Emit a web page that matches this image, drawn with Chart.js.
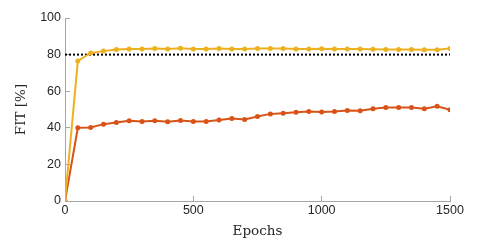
<!DOCTYPE html>
<html>
<head>
<meta charset="utf-8">
<script src="https://cdn.jsdelivr.net/npm/chart.js@4/dist/chart.umd.min.js"></script>
<style>
  html, body { margin: 0; padding: 0; background: #fff; }
  #wrap { width: 498px; height: 241px; }
</style>
</head>
<body>
<div id="wrap"><canvas id="chart"></canvas></div>
<script>
// values
const epochs = [0, 50, 100, 150, 200, 250, 300, 350, 400, 450, 500, 550, 600, 650, 700, 750,
                800, 850, 900, 950, 1000, 1050, 1100, 1150, 1200, 1250, 1300, 1350, 1400, 1450, 1500];
const fitYellow = [0, 76.5, 80.9, 81.9, 82.8, 83.1, 83.0, 83.3, 83.1, 83.5, 83.1, 83.0, 83.3, 83.0, 83.1, 83.3,
                   83.3, 83.3, 83.0, 83.0, 83.2, 83.1, 83.0, 83.1, 82.9, 82.8, 82.8, 82.8, 82.7, 82.7, 83.3];
const fitOrange = [0, 40.0, 40.2, 42.0, 42.9, 43.8, 43.5, 43.8, 43.3, 44.0, 43.5, 43.5, 44.2, 45.1, 44.5, 46.2,
                   47.6, 48.0, 48.5, 48.9, 48.7, 48.9, 49.5, 49.3, 50.4, 51.1, 51.1, 51.1, 50.4, 51.8, 49.8];
const thresholdX = [0, 1500];
const thresholdY = [80, 80];
const xTicks = [0, 500, 1000, 1500];
const yTicks = [0, 20, 40, 60, 80, 100];

const toPoints = (xs, ys) => xs.map((x, i) => ({ x: x, y: ys[i] }));

const tickFont = { family: 'Liberation Sans', size: 12.5 };
const titleFont = { family: 'DejaVu Serif', size: 13.5 };

const ctx = document.getElementById('chart').getContext('2d');

const myChart = new Chart(ctx, {
    type: 'line',
    data: {
        datasets: [
            {
                label: 'Yellow',
                data: toPoints(epochs, fitYellow),
                borderColor: '#EDB120',
                backgroundColor: '#EDB120',
                borderWidth: 2,
                pointRadius: 2.5,
                pointBorderWidth: 0,
                order: 1
            },
            {
                label: 'Orange',
                data: toPoints(epochs, fitOrange),
                borderColor: '#D95319',
                backgroundColor: '#D95319',
                borderWidth: 2,
                pointRadius: 2.5,
                pointBorderWidth: 0,
                order: 3
            },
            {
                label: 'Threshold',
                data: toPoints(thresholdX, thresholdY),
                borderColor: '#000',
                borderWidth: 2,
                borderDash: [2, 2],
                pointRadius: 0,
                order: 2
            }
        ]
    },
    options: {
        responsive: true,
        maintainAspectRatio: false,
        animation: false,
        layout: { padding: { top: 18, right: 48, left: 0, bottom: 0 } },
        scales: {
            x: {
                type: 'linear',
                min: 0,
                max: 1500,
                afterBuildTicks: axis => { axis.ticks = xTicks.map(v => ({ value: v })); },
                afterFit: axis => { axis.height = 40; },
                grid: { drawOnChartArea: false, tickLength: -5, color: '#a6a6a6' },
                border: { color: '#a6a6a6', width: 1 },
                ticks: { font: tickFont, color: '#262626', padding: 7, maxRotation: 0, callback: v => String(v) },
                title: { display: true, text: 'Epochs', font: titleFont, color: '#262626', padding: { top: 0, bottom: 1 } }
            },
            y: {
                min: 0,
                max: 100,
                afterBuildTicks: axis => { axis.ticks = yTicks.map(v => ({ value: v })); },
                afterFit: axis => { axis.width = 65; },
                grid: { drawOnChartArea: false, tickLength: -5, color: '#a6a6a6' },
                border: { color: '#a6a6a6', width: 1 },
                ticks: { font: tickFont, color: '#262626', padding: 9, callback: v => String(v) },
                title: { display: true, text: 'FIT [%]', font: titleFont, color: '#262626', padding: { top: 13, bottom: 0 } }
            }
        },
        plugins: {
            legend: { display: false },
            tooltip: { enabled: false }
        }
    }
});
</script>
</body>
</html>
